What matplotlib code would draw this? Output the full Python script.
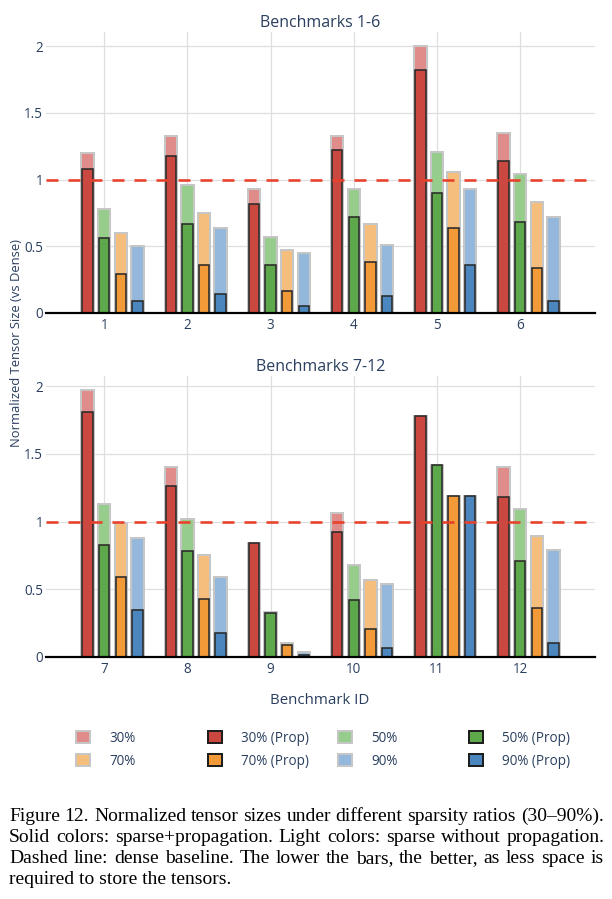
import matplotlib
matplotlib.use("Agg")
import matplotlib.pyplot as plt
from matplotlib.patches import Patch
import numpy as np

# ---------------- data ----------------
bench_ids = [1, 2, 3, 4, 5, 6, 7, 8, 9, 10, 11, 12]
panel_titles = ["Benchmarks 1-6", "Benchmarks 7-12"]
series_names = ["30%", "50%", "70%", "90%"]

light30 = [1.20, 1.33, 0.93, 1.33, 2.00, 1.35, 1.97, 1.40, 0.84, 1.06, 1.78, 1.40]
prop30 = [1.08, 1.18, 0.82, 1.22, 1.82, 1.14, 1.81, 1.26, 0.84, 0.92, 1.78, 1.18]
light50 = [0.78, 0.96, 0.57, 0.93, 1.21, 1.04, 1.13, 1.02, 0.33, 0.68, 1.42, 1.09]
prop50 = [0.56, 0.67, 0.36, 0.72, 0.90, 0.68, 0.83, 0.78, 0.325, 0.42, 1.42, 0.71]
light70 = [0.60, 0.75, 0.47, 0.67, 1.06, 0.83, 0.99, 0.75, 0.10, 0.57, 1.19, 0.89]
prop70 = [0.29, 0.36, 0.165, 0.38, 0.635, 0.335, 0.59, 0.43, 0.085, 0.21, 1.19, 0.36]
light90 = [0.50, 0.64, 0.45, 0.51, 0.93, 0.72, 0.88, 0.59, 0.04, 0.54, 1.19, 0.79]
prop90 = [0.09, 0.145, 0.055, 0.13, 0.36, 0.09, 0.35, 0.18, 0.015, 0.065, 1.19, 0.10]

dense_baseline = 1.0
ytick_vals = [0, 0.5, 1, 1.5, 2]
ytick_labels = ["0", "0.5", "1", "1.5", "2"]
caption_lines = [
    "Figure 12.  Normalized tensor sizes under different sparsity ratios (30\u201390%).",
    "Solid colors: sparse+propagation. Light colors: sparse without propagation.",
    "Dashed line: dense baseline. The lower the bars, the better, as less space is",
    "required to store the tensors.",
]

# ---------------- style ----------------
W, H = 612, 899
DPI = 100
PX = 72.0 / DPI  # points per pixel
TXT = "#2a3f5f"
light_cols = ["#e08c8b", "#96cc8c", "#f6be7c", "#93b8dc"]
solid_cols = ["#cb4841", "#5ca84a", "#f29a38", "#4b86bf"]
offsets = [-0.2, 0.0, 0.2, 0.4]

plt.rcParams["font.family"] = ["Open Sans", "DejaVu Sans"]
plt.rcParams["lines.scale_dashes"] = False

fig = plt.figure(figsize=(W / DPI, H / DPI), dpi=DPI)
fig.patch.set_facecolor("white")

lights = [light30, light50, light70, light90]
props = [prop30, prop50, prop70, prop90]

ax_rects = [
    [46 / W, 1 - 313 / H, (595 - 46) / W, (313 - 32) / H],
    [46 / W, 1 - 657 / H, (595 - 46) / W, (657 - 376) / H],
]

for p in range(2):
    ax = fig.add_axes(ax_rects[p])
    sl = slice(6 * p, 6 * p + 6)
    ids = np.array(bench_ids[sl])
    for k in range(4):
        ax.bar(ids + offsets[k], lights[k][sl], width=0.15, color=light_cols[k],
               edgecolor="#c6c6c6", linewidth=2 * PX, zorder=2)
        ax.bar(ids + offsets[k], props[k][sl], width=0.125, color=solid_cols[k],
               edgecolor="#2a2a2a", linewidth=1.6 * PX, zorder=3)
    ymax = max(max(l[sl]) for l in lights + props) * 1.053
    ax.set_ylim(0, ymax)
    ax.set_xlim(ids[0] - 0.7, ids[-1] + 0.9)
    ax.set_xticks(ids)
    ax.set_xticklabels([str(i) for i in ids])
    ax.set_yticks(ytick_vals)
    ax.set_yticklabels(ytick_labels)
    ax.tick_params(length=0, labelsize=13.5 * PX, labelcolor=TXT)
    ax.tick_params(axis="x", pad=5 * PX)
    ax.tick_params(axis="y", pad=3 * PX)
    ax.grid(True, color="#dedede", linewidth=1.2 * PX, zorder=0)
    ax.set_axisbelow(True)
    for s in ax.spines.values():
        s.set_visible(False)
    ax.axhline(0, color="black", linewidth=2.2 * PX, zorder=5, clip_on=False)
    ax.axhline(dense_baseline, color="#e8412c", linewidth=2.6 * PX, zorder=6,
               linestyle=(0, (12 * PX, 10 * PX)))
    ax.set_title(panel_titles[p], fontsize=16 * PX, color=TXT, pad=5 * PX)

fig.text(17 / W, 1 - 343 / H, "Normalized Tensor Size (vs Dense)", rotation=90,
         ha="center", va="center", fontsize=13 * PX, color=TXT)
fig.text(320 / W, 1 - 704 / H, "Benchmark ID", ha="center", va="baseline",
         fontsize=15 * PX, color=TXT)

# ---------------- legend (4 columns) ----------------
col_left = [76, 208, 338, 469]
col_series = [(0, 2, "light"), (0, 2, "prop"), (1, 3, "light"), (1, 3, "prop")]
for c, (a, b, kind) in enumerate(col_series):
    handles = []
    labels = []
    for k in (a, b):
        if kind == "light":
            handles.append(Patch(facecolor=light_cols[k], edgecolor="#c6c6c6", linewidth=2 * PX))
            labels.append(series_names[k])
        else:
            handles.append(Patch(facecolor=solid_cols[k], edgecolor="#1e1e1e", linewidth=2 * PX))
            labels.append(series_names[k] + " (Prop)")
    leg = fig.legend(handles, labels, loc="center left",
                     bbox_to_anchor=(col_left[c] / W, 1 - 750 / H),
                     frameon=False, borderpad=0, borderaxespad=0,
                     handlelength=1.0, handleheight=1.0, handletextpad=1.45,
                     labelspacing=0.6, prop={"size": 13.5 * PX})
    for t in leg.get_texts():
        t.set_color(TXT)

# ---------------- caption (justified) ----------------
fig.canvas.draw()
r = fig.canvas.get_renderer()
cap_kw = dict(fontsize=14, family=["Liberation Serif", "DejaVu Serif"], color="black", va="baseline")
x0, x1 = 9, 604
baselines = [821, 842, 863, 884]
for i, line in enumerate(caption_lines):
    yb = 1 - baselines[i] / H
    if i == len(caption_lines) - 1:
        fig.text(x0 / W, yb, line, **cap_kw)
        continue
    words = line.split()
    ts = [fig.text(0, yb, w, **cap_kw) for w in words]
    widths = [t.get_window_extent(r).width for t in ts]
    gap = (x1 - x0 - sum(widths)) / (len(words) - 1)
    x = x0
    for t, w in zip(ts, widths):
        t.set_x(x / W)
        x += w + gap

fig.savefig("out.png", dpi=DPI, facecolor="white")
